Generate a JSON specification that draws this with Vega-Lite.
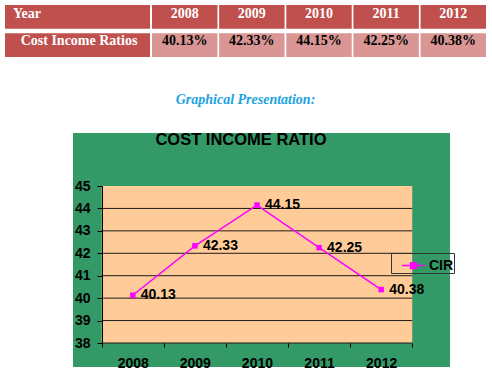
{
  "$schema": "https://vega.github.io/schema/vega-lite/v6.json",
  "background": "white",
  "padding": {"left": 5, "top": 5, "right": 5, "bottom": 0},
  "config": {"view": {"stroke": null}},
  "spacing": 36,
  "resolve": {"scale": {"color": "independent"}, "legend": {"color": "independent"}},
  "vconcat": [
    {
      "spacing": 2,
      "hconcat": [
        {
          "width": 145,
          "height": 52,
          "data": {"values": [{"row": "head", "label": "Year"}, {"row": "body", "label": "Cost Income Ratios"}]},
          "encoding": {
            "y": {"field": "row", "type": "nominal", "sort": null, "scale": {"domain": ["head", "body"], "paddingInner": 0.156, "paddingOuter": 0}, "axis": null}
          },
          "layer": [
            {"mark": {"type": "rect", "color": "#C0504D"}},
            {
              "transform": [{"filter": "datum.row === 'head'"}],
              "mark": {"type": "text", "align": "left", "baseline": "middle", "dx": -64.5, "dy": -2.5, "font": "Liberation Serif", "fontSize": 14, "fontWeight": "bold", "color": "white"},
              "encoding": {"text": {"field": "label"}}
            },
            {
              "transform": [{"filter": "datum.row === 'body'"}],
              "mark": {"type": "text", "align": "center", "baseline": "middle", "dx": 1.5, "dy": -4, "font": "Liberation Serif", "fontSize": 14, "fontWeight": "bold", "color": "white"},
              "encoding": {"text": {"field": "label"}}
            }
          ]
        },
        {
          "width": 334,
          "height": 52,
          "data": {"values": [
            {"col": "2008", "row": "head", "label": "2008"},
            {"col": "2009", "row": "head", "label": "2009"},
            {"col": "2010", "row": "head", "label": "2010"},
            {"col": "2011", "row": "head", "label": "2011"},
            {"col": "2012", "row": "head", "label": "2012"},
            {"col": "2008", "row": "body", "label": "40.13%"},
            {"col": "2009", "row": "body", "label": "42.33%"},
            {"col": "2010", "row": "body", "label": "44.15%"},
            {"col": "2011", "row": "body", "label": "42.25%"},
            {"col": "2012", "row": "body", "label": "40.38%"}
          ]},
          "encoding": {
            "x": {"field": "col", "type": "nominal", "sort": null, "scale": {"paddingInner": 0.025, "paddingOuter": 0}, "axis": null},
            "y": {"field": "row", "type": "nominal", "sort": null, "scale": {"domain": ["head", "body"], "paddingInner": 0.156, "paddingOuter": 0}, "axis": null}
          },
          "layer": [
            {
              "mark": {"type": "rect"},
              "encoding": {"color": {"condition": {"test": "datum.row === 'head'", "value": "#C0504D"}, "value": "#D99694"}}
            },
            {
              "transform": [{"filter": "datum.row === 'head'"}],
              "mark": {"type": "text", "align": "center", "baseline": "middle", "dy": -2.5, "font": "Liberation Serif", "fontSize": 14, "fontWeight": "bold", "color": "white"},
              "encoding": {"text": {"field": "label"}}
            },
            {
              "transform": [{"filter": "datum.row === 'body'"}],
              "mark": {"type": "text", "align": "center", "baseline": "middle", "dy": -4, "font": "Liberation Serif", "fontSize": 14, "fontWeight": "bold", "color": "black"},
              "encoding": {"text": {"field": "label"}}
            }
          ]
        }
      ]
    },
    {
      "width": 481,
      "height": 157,
      "title": {"text": "Graphical Presentation:", "font": "Liberation Serif", "fontSize": 14, "fontStyle": "italic", "fontWeight": "bold", "color": "#1AA3E0", "anchor": "middle", "frame": "group", "offset": 11, "baseline": "bottom"},
      "data": {"values": [
        {"year": 2008, "value": 40.13, "series": "CIR"},
        {"year": 2009, "value": 42.33, "series": "CIR"},
        {"year": 2010, "value": 44.15, "series": "CIR"},
        {"year": 2011, "value": 42.25, "series": "CIR"},
        {"year": 2012, "value": 40.38, "series": "CIR"}
      ]},
      "layer": [
        {
          "data": {"values": [{}]},
          "mark": {"type": "rect", "color": "#339966"},
          "encoding": {
            "x": {"datum": 2007.037, "type": "quantitative", "scale": {"domain": [2005.942, 2013.688], "nice": false, "zero": false},
              "axis": {"title": null, "domain": false, "values": [2007.5, 2008.5, 2009.5, 2010.5, 2011.5, 2012.5], "labelExpr": "datum.value < 2012 ? format(datum.value + 0.5, 'd') : ''", "labelOffset": 31, "labelFlush": false, "labelOverlap": false, "labelBound": false, "tickSize": 4, "tickColor": "black", "labelFont": "Liberation Sans", "labelFontSize": 14, "labelFontWeight": "bold", "labelColor": "black", "labelPadding": 9, "grid": false, "zindex": 1}},
            "x2": {"datum": 2013.108},
            "y": {"datum": 36.93, "type": "quantitative", "scale": {"domain": [38, 45], "nice": false, "zero": false},
              "axis": {"title": null, "offset": -97, "values": [38, 39, 40, 41, 42, 43, 44, 45], "tickCount": 8, "format": "d", "tickSize": 5, "tickColor": "black", "domainColor": "black", "labelPadding": 7, "labelFont": "Liberation Sans", "labelFontSize": 14, "labelFontWeight": "bold", "labelColor": "black", "labelFlush": false, "labelOverlap": false, "grid": false, "zindex": 1}},
            "y2": {"datum": 47.36}
          }
        },
        {
          "data": {"values": [{}]},
          "mark": {"type": "rect", "color": "#FFCC99"},
          "encoding": {
            "x": {"datum": 2007.5, "type": "quantitative",
              "axis": {"title": null, "domain": false, "values": [2007.5, 2008.5, 2009.5, 2010.5, 2011.5, 2012.5], "labelExpr": "datum.value < 2012 ? format(datum.value + 0.5, 'd') : ''", "labelOffset": 31, "labelFlush": false, "labelOverlap": false, "labelBound": false, "tickSize": 4, "tickColor": "black", "labelFont": "Liberation Sans", "labelFontSize": 14, "labelFontWeight": "bold", "labelColor": "black", "labelPadding": 9, "grid": false, "zindex": 1}},
            "x2": {"datum": 2012.5},
            "y": {"datum": 38, "type": "quantitative",
              "axis": {"title": null, "offset": -97, "values": [38, 39, 40, 41, 42, 43, 44, 45], "tickCount": 8, "format": "d", "tickSize": 5, "tickColor": "black", "domainColor": "black", "labelPadding": 7, "labelFont": "Liberation Sans", "labelFontSize": 14, "labelFontWeight": "bold", "labelColor": "black", "labelFlush": false, "labelOverlap": false, "grid": false, "zindex": 1}},
            "y2": {"datum": 45}
          }
        },
        {
          "data": {"values": [{"g": 38}, {"g": 39}, {"g": 40}, {"g": 41}, {"g": 42}, {"g": 43}, {"g": 44}]},
          "mark": {"type": "rule", "color": "#1e1a16", "strokeWidth": 1},
          "encoding": {
            "x": {"datum": 2007.5, "type": "quantitative",
              "axis": {"title": null, "domain": false, "values": [2007.5, 2008.5, 2009.5, 2010.5, 2011.5, 2012.5], "labelExpr": "datum.value < 2012 ? format(datum.value + 0.5, 'd') : ''", "labelOffset": 31, "labelFlush": false, "labelOverlap": false, "labelBound": false, "tickSize": 4, "tickColor": "black", "labelFont": "Liberation Sans", "labelFontSize": 14, "labelFontWeight": "bold", "labelColor": "black", "labelPadding": 9, "grid": false, "zindex": 1}},
            "x2": {"datum": 2012.5},
            "y": {"field": "g", "type": "quantitative",
              "axis": {"title": null, "offset": -97, "values": [38, 39, 40, 41, 42, 43, 44, 45], "tickCount": 8, "format": "d", "tickSize": 5, "tickColor": "black", "domainColor": "black", "labelPadding": 7, "labelFont": "Liberation Sans", "labelFontSize": 14, "labelFontWeight": "bold", "labelColor": "black", "labelFlush": false, "labelOverlap": false, "grid": false, "zindex": 1}}
          }
        },
        {
          "mark": {"type": "line", "strokeWidth": 1.5, "point": {"shape": "square", "size": 30, "filled": true}},
          "encoding": {
            "x": {"field": "year", "type": "quantitative",
              "axis": {"title": null, "domain": false, "values": [2007.5, 2008.5, 2009.5, 2010.5, 2011.5, 2012.5], "labelExpr": "datum.value < 2012 ? format(datum.value + 0.5, 'd') : ''", "labelOffset": 31, "labelFlush": false, "labelOverlap": false, "labelBound": false, "tickSize": 4, "tickColor": "black", "labelFont": "Liberation Sans", "labelFontSize": 14, "labelFontWeight": "bold", "labelColor": "black", "labelPadding": 9, "grid": false, "zindex": 1}},
            "y": {"field": "value", "type": "quantitative",
              "axis": {"title": null, "offset": -97, "values": [38, 39, 40, 41, 42, 43, 44, 45], "tickCount": 8, "format": "d", "tickSize": 5, "tickColor": "black", "domainColor": "black", "labelPadding": 7, "labelFont": "Liberation Sans", "labelFontSize": 14, "labelFontWeight": "bold", "labelColor": "black", "labelFlush": false, "labelOverlap": false, "grid": false, "zindex": 1}},
            "color": {"field": "series", "type": "nominal", "scale": {"range": ["#FF00FF"]},
              "legend": {"title": null, "orient": "none", "legendX": 386, "legendY": 67, "padding": 0, "symbolOffset": 10, "strokeColor": "#333333", "symbolType": "M-1,0H1M-0.25,-0.25H0.25V0.25H-0.25Z", "symbolSize": 529, "symbolFillColor": "#FF00FF", "symbolStrokeColor": "#FF00FF", "symbolStrokeWidth": 1.5, "labelFont": "Liberation Sans", "labelFontSize": 14, "labelFontWeight": "bold", "labelColor": "black", "labelOffset": 3}}
          }
        },
        {
          "mark": {"type": "text", "align": "left", "baseline": "middle", "dx": 8, "font": "Liberation Sans", "fontSize": 14, "fontWeight": "bold", "color": "black"},
          "encoding": {
            "x": {"field": "year", "type": "quantitative",
              "axis": {"title": null, "domain": false, "values": [2007.5, 2008.5, 2009.5, 2010.5, 2011.5, 2012.5], "labelExpr": "datum.value < 2012 ? format(datum.value + 0.5, 'd') : ''", "labelOffset": 31, "labelFlush": false, "labelOverlap": false, "labelBound": false, "tickSize": 4, "tickColor": "black", "labelFont": "Liberation Sans", "labelFontSize": 14, "labelFontWeight": "bold", "labelColor": "black", "labelPadding": 9, "grid": false, "zindex": 1}},
            "y": {"field": "value", "type": "quantitative",
              "axis": {"title": null, "offset": -97, "values": [38, 39, 40, 41, 42, 43, 44, 45], "tickCount": 8, "format": "d", "tickSize": 5, "tickColor": "black", "domainColor": "black", "labelPadding": 7, "labelFont": "Liberation Sans", "labelFontSize": 14, "labelFontWeight": "bold", "labelColor": "black", "labelFlush": false, "labelOverlap": false, "grid": false, "zindex": 1}},
            "text": {"field": "value", "type": "quantitative", "format": ".2f"}
          }
        },
        {
          "data": {"values": [{}]},
          "mark": {"type": "text", "text": "COST INCOME RATIO", "align": "center", "baseline": "middle", "font": "Liberation Sans", "fontSize": 16.5, "fontWeight": "bold", "color": "black"},
          "encoding": {
            "x": {"datum": 2009.742, "type": "quantitative",
              "axis": {"title": null, "domain": false, "values": [2007.5, 2008.5, 2009.5, 2010.5, 2011.5, 2012.5], "labelExpr": "datum.value < 2012 ? format(datum.value + 0.5, 'd') : ''", "labelOffset": 31, "labelFlush": false, "labelOverlap": false, "labelBound": false, "tickSize": 4, "tickColor": "black", "labelFont": "Liberation Sans", "labelFontSize": 14, "labelFontWeight": "bold", "labelColor": "black", "labelPadding": 9, "grid": false, "zindex": 1}},
            "y": {"datum": 47.05, "type": "quantitative",
              "axis": {"title": null, "offset": -97, "values": [38, 39, 40, 41, 42, 43, 44, 45], "tickCount": 8, "format": "d", "tickSize": 5, "tickColor": "black", "domainColor": "black", "labelPadding": 7, "labelFont": "Liberation Sans", "labelFontSize": 14, "labelFontWeight": "bold", "labelColor": "black", "labelFlush": false, "labelOverlap": false, "grid": false, "zindex": 1}}
          }
        }
      ]
    }
  ]
}
